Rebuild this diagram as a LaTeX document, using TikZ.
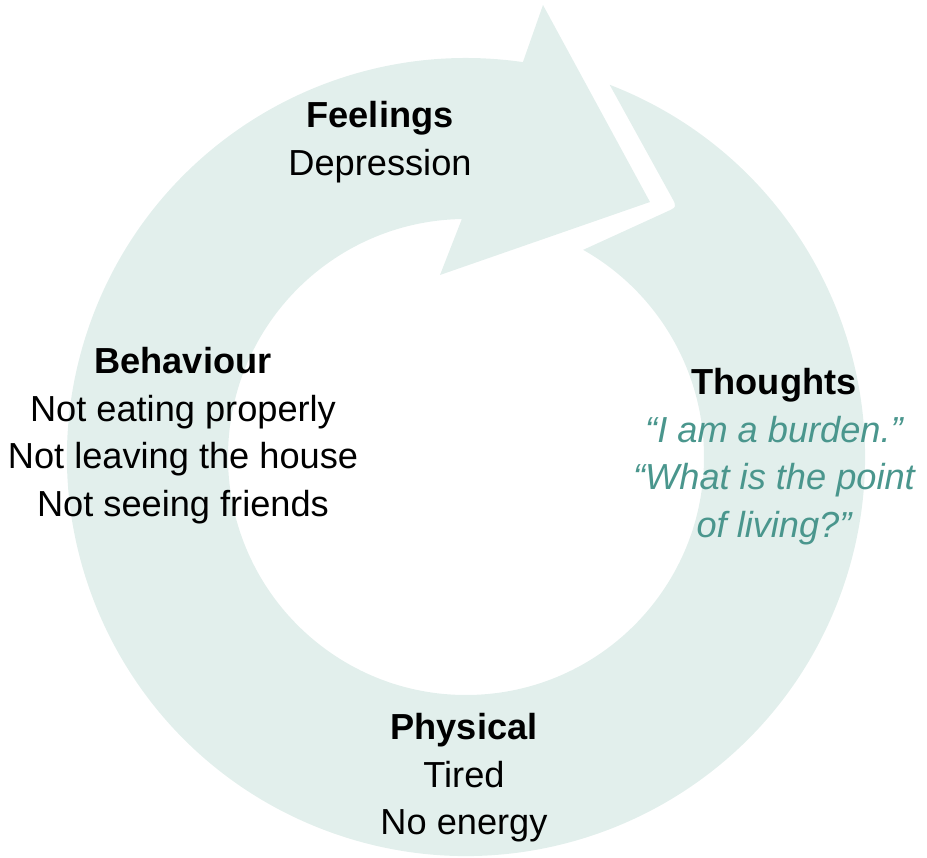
\documentclass[tikz,border=0pt]{standalone}
\usepackage{fontspec}
\setmainfont{Liberation Sans}
\definecolor{ringfill}{HTML}{E2EFEC}
\definecolor{thoughtteal}{HTML}{4A968D}
% centred lines whose reference point is the baseline of the first line
\newcommand{\blocklines}[1]{\begin{tabular}[t]{@{}c@{}}#1\end{tabular}}
\newcommand{\quoteline}{\color{thoughtteal}\itshape}
\begin{document}
\begin{tikzpicture}[x=1pt,y=1pt,
  cyclelabel/.style={inner sep=0pt, anchor=base, font=\fontsize{36.2}{47.5}\selectfont}]
\useasboundingbox (-466,-401) rectangle (461,457);

% circular band with the arrow head at the top and a notched tail
\fill[ringfill]
  (68.9:399) arc[start angle=68.9, end angle=-278.2, radius=399]
  -- (77,452) -- (184,255) -- (-26,182)
  -- (91:238) arc[start angle=91, end angle=420.5, radius=238]
  -- (200.5,245.2) .. controls (211,250) .. (205.6,259.9)
  -- cycle;

\node[cyclelabel] (feelings) at (-86,329)
  {\blocklines{\bfseries Feelings\\ Depression}};
\node[cyclelabel] (behaviour) at (-283,83)
  {\blocklines{\bfseries Behaviour\\ Not eating properly\\ Not leaving the house\\ Not seeing friends}};
\node[cyclelabel] (thoughts) at (308,62)
  {\blocklines{\bfseries Thoughts\\ \quoteline “I am a burden.”\\ \quoteline “What is the point\\ \quoteline of living?”}};
\node[cyclelabel] (physical) at (-2,-283)
  {\blocklines{\bfseries Physical\\ Tired\\ No energy}};
\end{tikzpicture}
\end{document}
